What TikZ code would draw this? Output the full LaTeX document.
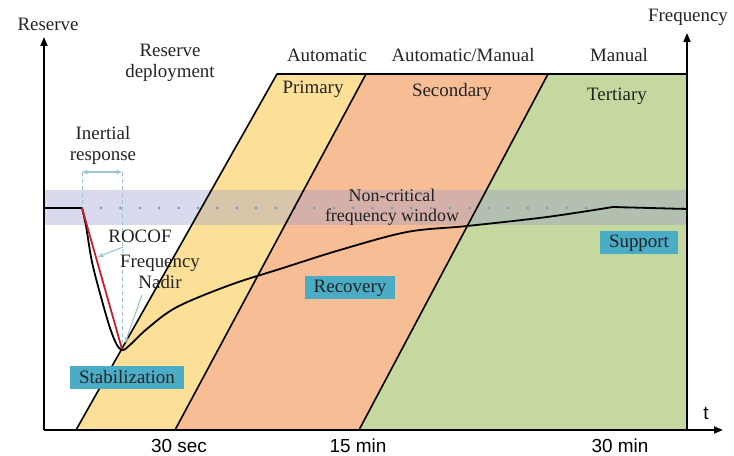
\documentclass[tikz,border=0pt]{standalone}
\usepackage{fontspec}
\setmainfont{Liberation Serif}
\newfontfamily\timefont{Liberation Sans}
\usepackage{xcolor}
\usepackage{tikz}
\usetikzlibrary{arrows.meta, positioning, calc}

\definecolor{res_primary}{RGB}{252, 224, 152}
\definecolor{res_secondary}{RGB}{247, 190, 150}
\definecolor{res_tertiary}{RGB}{197, 216, 160}
\definecolor{res_band}{RGB}{150, 150, 205}
\definecolor{res_dots}{RGB}{105, 160, 205}
\definecolor{res_stage}{RGB}{75, 172, 198}
\definecolor{res_note}{RGB}{155, 198, 210}
\definecolor{res_rocof}{RGB}{200, 30, 45}
\definecolor{res_text}{RGB}{35, 35, 35}

\tikzset{
  axisline/.style={line width=1.8bp, -{Triangle[length=9bp, width=7bp]}},
  edgeline/.style={line width=1.6bp, line join=round},
  txt/.style={font=\fontsize{19}{21}\selectfont, text=res_text, align=center, inner sep=0pt},
  smalltxt/.style={font=\fontsize{18}{20}\selectfont, text=res_text, align=center, inner sep=0pt},
  timetxt/.style={font=\timefont\fontsize{19}{21}\selectfont, text=black, inner sep=0pt},
  stagebox/.style={fill=res_stage, font=\fontsize{19}{21}\selectfont, text=res_text,
                   minimum height=23bp, inner xsep=9bp, inner ysep=0pt},
  notearrow/.style={res_note, line width=1.1bp, -{Stealth[length=6bp, width=5bp]}},
  guide/.style={res_note, line width=0.8bp, dash pattern=on 4bp off 3bp},
  freqcurve/.style={line width=1.8bp, line join=round}
}

\begin{document}
\begin{tikzpicture}[x=1bp, y=-1bp]
  \useasboundingbox (0,0) rectangle (734,456);

  % axes corners and bands
  \coordinate (origin) at (44,430);
  \coordinate (ytip)   at (44,37);
  \coordinate (xtip)   at (723,430);
  \coordinate (rbase)  at (687,430);
  \coordinate (rtip)   at (687,33);
  \coordinate (rtop)   at (687,74);
  \coordinate (p1b) at (76,430);   \coordinate (p1t) at (277,74);
  \coordinate (p2b) at (175,430);  \coordinate (p2t) at (366,74);
  \coordinate (p3b) at (359,430);  \coordinate (p3t) at (548,74);

  \fill[res_primary]   (p1b) -- (p1t) -- (p2t) -- (p2b) -- cycle;
  \fill[res_secondary] (p2b) -- (p2t) -- (p3t) -- (p3b) -- cycle;
  \fill[res_tertiary]  (p3b) -- (p3t) -- (rtop) -- (rbase) -- cycle;

  % non-critical window
  \fill[res_band, opacity=0.35] (44,190) rectangle (687,225);
  \coordinate (dotl) at (101,208);
  \coordinate (dotr) at (684,208);
  \draw[res_dots, line width=3bp, line cap=round, dash pattern=on 0bp off 19.4bp] (dotl) -- (dotr);

  \draw[edgeline] (p1b) -- (p1t) -- (rtop);
  \draw[edgeline] (p2b) -- (p2t);
  \draw[edgeline] (p3b) -- (p3t);

  % inertial response
  \coordinate (ir1) at (82,172);
  \coordinate (ir2) at (122,172);
  \coordinate (ir1b) at (82,208);
  \coordinate (ir2b) at (122,342);
  \draw[guide] (ir1) -- (ir1b);
  \draw[guide] (ir2) -- (ir2b);
  \draw[res_note, line width=1.1bp, {Stealth[length=6bp, width=5bp]}-{Stealth[length=6bp, width=5bp]}] (ir1) -- (ir2);

  % frequency
  \coordinate (kink) at (82,208);
  \coordinate (nadir) at (122,349);
  \draw[freqcurve] (44,208) -- (kink)
    plot[smooth, tension=0.55] coordinates {(kink) (86,226) (92,262) (101,297) (110,328) (117,345)
      (123,350) (131,344) (148,328) (177,307) (230,285) (283,268) (340,250) (407,232)
      (467,226) (547,217) (613,207)} -- (687,209);
  \draw[res_rocof, line width=1.8bp] (kink) -- (nadir);

  \draw[axisline] (origin) -- (ytip);
  \draw[axisline] (rbase) -- (rtip);
  \draw[axisline] (origin) -- (xtip);

  % labels
  \node[txt] (reserve)   at (48,24)   {Reserve};
  \node[txt] (frequency) at (688,17)  {Frequency};
  \node[timetxt] (tlabel) at (706,413) {t};
  \node[txt] (deploy)    at (170,63)  {Reserve\\deployment};
  \node[txt] (inertial)  at (103,145) {Inertial\\response};
  \node[txt] (auto)      at (327,55)  {Automatic};
  \node[txt] (automan)   at (463,55)  {Automatic/Manual};
  \node[txt] (manual)    at (619,55)  {Manual};
  \node[txt] (primary)   at (313,89)  {Primary};
  \node[txt] (secondary) at (452,92)  {Secondary};
  \node[txt] (tertiary)  at (617,96)  {Tertiary};
  \node[smalltxt] (window) at (392,207) {Non-critical\\frequency window};
  \node[txt] (rocof)     at (140,236) {ROCOF};
  \node[txt] (fnadir)    at (160,272) {Frequency\\Nadir};

  \coordinate (rocoftail) at (123,247);
  \coordinate (rocofhit) at (98,257);
  \coordinate (nadirtail) at (142,295);
  \coordinate (nadirhit) at (125,343);
  \draw[notearrow] (rocoftail) -- (rocofhit);
  \draw[notearrow] (nadirtail) -- (nadirhit);

  \node[stagebox] (stab)    at (127,377) {Stabilization};
  \node[stagebox] (recov)   at (350,288) {Recovery};
  \node[stagebox] (support) at (639,243) {Support};

  \node[timetxt] (t30s)  at (179,446) {30 sec};
  \node[timetxt] (t15m)  at (358,446) {15 min};
  \node[timetxt] (t30m)  at (620,446) {30 min};
\end{tikzpicture}
\end{document}
